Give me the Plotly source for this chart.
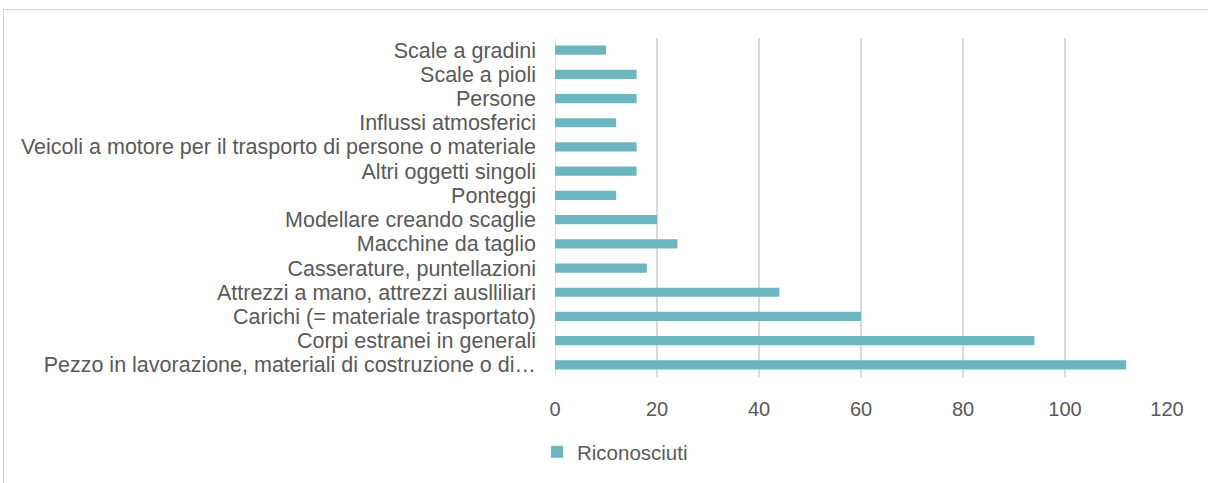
import plotly.graph_objects as go

categories = [
    "Scale a gradini",
    "Scale a pioli",
    "Persone",
    "Influssi atmosferici",
    "Veicoli a motore per il trasporto di persone o materiale",
    "Altri oggetti singoli",
    "Ponteggi",
    "Modellare creando scaglie",
    "Macchine da taglio",
    "Casserature, puntellazioni",
    "Attrezzi a mano, attrezzi auslliliari",
    "Carichi (= materiale trasportato)",
    "Corpi estranei in generali",
    "Pezzo in lavorazione, materiali di costruzione o di…",
]
values = [10, 16, 16, 12, 16, 16, 12, 20, 24, 18, 44, 60, 94, 112]
series_name = "Riconosciuti"
x_ticks = [0, 20, 40, 60, 80, 100, 120]

W, H = 1208, 483
L, R, T, B = 555, 1167, 38, 378

fig = go.Figure(go.Bar(
    y=categories, x=values, orientation="h", name=series_name,
    marker=dict(color="#6cb6bf", line=dict(width=0)),
    showlegend=True,
))

def px_x(p):
    return (p - L) / (R - L)

def px_y(p):
    return (B - p) / (B - T)

fig.update_layout(
    width=W, height=H,
    margin=dict(l=L, r=W - R, t=T, b=H - B),
    paper_bgcolor="white", plot_bgcolor="white",
    font=dict(family="Liberation Sans, Arial, sans-serif", size=20, color="#595959"),
    bargap=0.62,
    showlegend=True,
    legend=dict(orientation="h", x=px_x(537), xanchor="left", y=px_y(452), yanchor="middle",
                font=dict(size=20.5, color="#595959"), itemwidth=30, bgcolor="rgba(0,0,0,0)"),
    xaxis=dict(range=[0, 120], tickvals=x_ticks, showgrid=True, gridcolor="#d9d9d9", gridwidth=1.5,
               zeroline=False, showline=False, ticks="", ticklabelstandoff=18,
               tickfont=dict(size=20), fixedrange=True),
    yaxis=dict(autorange="reversed", showgrid=False, zeroline=False, showline=False, ticks="",
               tickmode="array", tickvals=categories, ticktext=categories,
               ticklabelstandoff=18, tickfont=dict(size=21.5)),
    shapes=[dict(type="rect", xref="paper", yref="paper",
                 x0=px_x(3.5), x1=px_x(1260), y0=px_y(9.5), y1=px_y(520),
                 line=dict(color="#d0d0d0", width=1), fillcolor="rgba(0,0,0,0)", layer="below"),
            dict(type="line", xref="x", yref="paper", x0=0, x1=0, y0=0, y1=1,
                 line=dict(color="#d9d9d9", width=1.5), layer="below")],
)

fig.write_html("out.html", config={"displayModeBar": False},
               post_script="document.body.style.margin='0';document.body.style.overflow='hidden';")
